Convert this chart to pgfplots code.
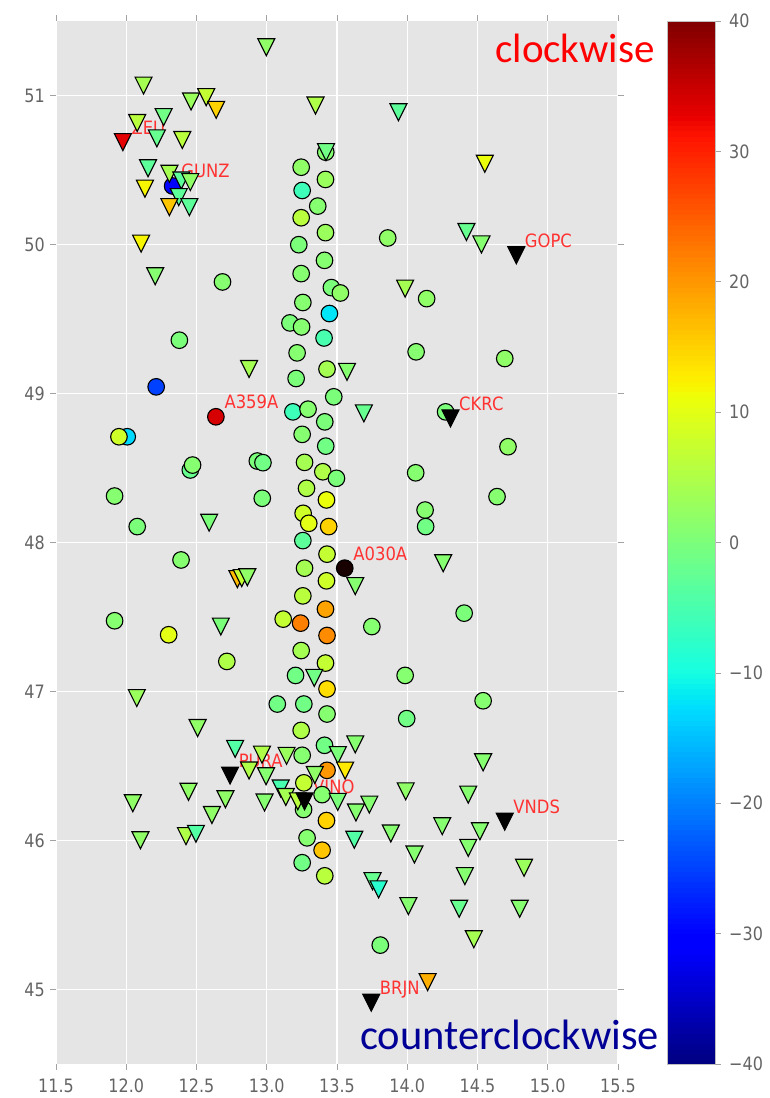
\documentclass[border=0pt]{standalone}
\usepackage{pgfplots}
\pgfplotsset{compat=1.18}
\usepackage{graphicx}
\usepackage{fontspec}
\setmainfont{DejaVu Sans}
\newfontfamily\calib{Carlito}
\definecolor{bgc}{RGB}{229,229,229}
\definecolor{lblred}{RGB}{255,50,50}
\definecolor{tickc}{RGB}{100,100,100}
\definecolor{navyt}{RGB}{0,0,150}
\newcommand\tl[1]{\scalebox{1}[1.15]{#1}}
\newcommand\stl[1]{\scalebox{1}[1.12]{#1}}
\pgfdeclareplotmark{vtri}{%
  \pgfpathmoveto{\pgfqpoint{0pt}{-\pgfplotmarksize}}%
  \pgfpathlineto{\pgfqpoint{-\pgfplotmarksize}{\pgfplotmarksize}}%
  \pgfpathlineto{\pgfqpoint{\pgfplotmarksize}{\pgfplotmarksize}}%
  \pgfpathclose\pgfusepathqfillstroke}
\pgfplotsset{colormap={mpljet}{rgb(0mm)=(0,0,0.5) rgb(11mm)=(0,0,1) rgb(12.5mm)=(0,0,1) rgb(34mm)=(0,0.86,1) rgb(35mm)=(0,0.9,0.9677) rgb(37.5mm)=(0.0806,1,0.887) rgb(64mm)=(0.935,1,0.0323) rgb(65mm)=(0.9677,0.963,0) rgb(66mm)=(1,0.926,0) rgb(89mm)=(1,0.074,0) rgb(91mm)=(0.909,0,0) rgb(100mm)=(0.5,0,0)}}
\pgfplotstableread{
x y c
13.245 50.519 2
13.418 50.437 3
13.252 50.363 -6
13.363 50.258 1
13.245 50.180 6
13.418 50.080 3
13.228 49.999 0
13.411 49.894 1
13.245 49.805 1
13.460 49.711 0
13.524 49.675 2
13.257 49.611 1
13.446 49.537 -12
13.165 49.474 0
13.248 49.447 1
13.408 49.373 -5
13.216 49.273 1
13.429 49.164 4
13.209 49.101 0
13.477 48.978 0
13.186 48.877 -6
13.294 48.895 1
13.413 48.810 0
13.252 48.726 1
13.420 48.647 -1
12.933 48.547 0
12.973 48.536 -1
13.269 48.538 4
13.399 48.475 5
13.496 48.431 0
12.968 48.297 0
13.283 48.364 5
13.425 48.286 11
13.259 48.196 8
13.299 48.129 10
13.441 48.107 15
13.257 48.013 -3
13.429 47.922 7
13.269 47.828 4
13.425 47.743 8
13.257 47.642 6
13.418 47.553 19
13.117 47.486 7
13.241 47.459 22
13.429 47.376 21
13.245 47.275 4
13.418 47.191 7
13.205 47.108 -1
13.429 47.017 14
13.075 46.916 -1
13.264 46.916 -1
13.429 46.849 1
13.245 46.739 5
13.411 46.639 -1
13.252 46.572 1
13.429 46.471 20
13.264 46.387 7
13.394 46.308 1
13.262 46.208 1
13.425 46.134 15
13.287 46.018 1
13.394 45.935 16
13.252 45.851 -1
13.413 45.763 6
13.808 45.298 0
12.685 49.749 1
12.378 49.358 0
12.213 49.045 -25
12.638 48.844 34
12.007 48.710 -13
11.948 48.710 8
12.456 48.487 -2
12.472 48.520 1
11.917 48.312 1
12.078 48.107 0
12.390 47.883 1
11.917 47.475 1
12.302 47.381 10
12.716 47.202 5
13.861 50.044 2
14.138 49.637 2
14.063 49.280 1
14.694 49.235 2
14.273 48.877 0
14.717 48.643 2
14.060 48.468 1
14.639 48.308 1
14.127 48.218 1
14.131 48.107 -1
14.405 47.526 0
13.748 47.436 1
13.985 47.108 1
14.540 46.938 1
13.996 46.818 -1
13.420 50.620 1
12.330 50.393 -30
}\circles
\pgfplotstableread{
x y c
12.997 51.324 2
12.123 51.067 4
12.461 50.960 3
12.569 50.989 7
12.640 50.904 15
13.347 50.933 5
12.078 50.816 6
12.266 50.855 -1
11.976 50.687 33
12.218 50.713 -2
12.399 50.702 6
12.155 50.512 -3
12.307 50.475 4
12.392 50.430 -3
12.456 50.419 2
12.133 50.375 12
12.374 50.318 -3
12.307 50.251 16
12.449 50.251 -3
12.106 50.006 12
12.206 49.787 1
13.422 50.620 -1
13.937 50.888 -3
14.552 50.542 11
14.421 50.084 -2
14.528 50.001 1
13.985 49.704 4
12.874 49.165 4
13.571 49.145 1
13.691 48.867 -2
12.590 48.133 0
14.256 47.861 1
13.630 47.707 1
12.791 47.754 17
12.822 47.761 7
12.862 47.767 2
12.673 47.436 0
13.338 47.092 -1
12.075 46.956 3
12.508 46.755 2
13.630 46.645 1
12.775 46.615 -4
12.966 46.576 5
13.141 46.568 3
13.506 46.573 0
14.540 46.525 1
12.874 46.470 5
13.558 46.469 13
13.342 46.440 2
12.995 46.431 1
13.099 46.349 -5
13.136 46.292 4
12.443 46.327 2
12.706 46.277 2
12.047 46.250 2
12.984 46.255 1
13.505 46.259 0
13.221 46.263 6
12.610 46.171 2
13.635 46.188 1
13.730 46.241 1
13.989 46.330 2
14.434 46.308 1
14.249 46.096 1
14.517 46.062 1
13.623 46.005 -4
13.883 46.047 1
12.101 46.002 2
12.425 46.029 5
12.496 46.045 -4
14.434 45.951 1
14.051 45.906 1
14.831 45.817 3
13.753 45.727 -2
13.796 45.672 -8
14.410 45.761 1
14.008 45.560 1
14.370 45.542 -2
14.800 45.542 1
14.474 45.337 4
14.145 45.050 18
}\triangles
\pgfplotstableread{
x y
14.776 49.928
14.308 48.833
14.694 46.127
12.739 46.436
13.269 46.263
13.744 44.912
}\blacktri
\begin{document}
\begin{tikzpicture}
\useasboundingbox (-56pt,-34pt) rectangle (714pt,1064pt);
\begin{axis}[
  at={(0pt,0pt)}, anchor=south west, scale only axis,
  width=562pt, height=1043pt,
  xmin=11.5, xmax=15.5, ymin=44.5, ymax=51.5,
  axis background/.style={fill=bgc},
  axis line style={draw=none},
  xtick={11.5,12.0,12.5,13.0,13.5,14.0,14.5,15.0,15.5},
  xticklabels={\tl{11.5},\tl{12.0},\tl{12.5},\tl{13.0},\tl{13.5},\tl{14.0},\tl{14.5},\tl{15.0},\tl{15.5}},
  ytick={45,46,47,48,49,50,51},
  yticklabels={\tl{45},\tl{46},\tl{47},\tl{48},\tl{49},\tl{50},\tl{51}},
  grid=major, major grid style={white, line width=1.3pt},
  tick align=outside, tick pos=both,
  xticklabel pos=lower, yticklabel pos=left,
  major tick length=6pt, major tick style={tickc!60, line width=0.8pt},
  ticklabel style={font=\fontsize{16}{18}\selectfont, text=tickc},
  xticklabel style={anchor=north, inner sep=0pt, yshift=-9pt},
  yticklabel style={anchor=east, inner sep=0pt, xshift=-5pt},
  colormap name=mpljet, point meta min=-40, point meta max=40,
  colorbar sampled,
  colorbar style={
    samples=201,
    at={(parent axis.north east)}, anchor=north west, xshift=40.5pt,
    width=48pt, scale only axis,
    ytick={-40,-30,-20,-10,0,10,20,30,40},
    yticklabels={\tl{−40},\tl{−30},\tl{−20},\tl{−10},\tl{0},\tl{10},\tl{20},\tl{30},\tl{40}},
    yticklabel pos=right, ytick pos=right, tick align=outside,
    major tick length=6pt, major tick style={tickc!60, line width=0.8pt},
    yticklabel style={font=\fontsize{16}{18}\selectfont, text=tickc, anchor=west, inner sep=0pt, xshift=8pt},
    axis line style={draw=gray!50, line width=0.5pt},
  },
]
\addplot[scatter, only marks, mark=*, mark size=8.3pt, line width=1.1pt,
  scatter/use mapped color={draw=black, fill=mapped color}, point meta=explicit]
  table[x=x, y=y, meta=c]{\circles};
\addplot[scatter, only marks, mark=vtri, mark size=8.5pt, line width=1.1pt,
  scatter/use mapped color={draw=black, fill=mapped color}, point meta=explicit]
  table[x=x, y=y, meta=c]{\triangles};
\addplot[only marks, mark=*, mark size=8.3pt, line width=1.1pt, mark options={fill=black!90!red, draw=black}]
  coordinates {(13.555,47.828)};
\addplot[only marks, mark=vtri, mark size=8.5pt, line width=1.1pt, mark options={fill=black, draw=black}]
  table[x=x, y=y]{\blacktri};
\tikzset{lbl/.style={anchor=base west, inner sep=0pt, xshift=8.5pt, yshift=8pt, text=lblred, font=\fontsize{16.4}{18}\selectfont}}
\node[lbl] at (axis cs:11.976,50.687) {\stl{ZEU}};
\node[lbl] at (axis cs:12.330,50.393) {\stl{GUNZ}};
\node[lbl] at (axis cs:14.776,49.928) {\stl{GOPC}};
\node[lbl] at (axis cs:12.638,48.844) {\stl{A359A}};
\node[lbl] at (axis cs:14.308,48.833) {\stl{CKRC}};
\node[lbl] at (axis cs:13.555,47.828) {\stl{A030A}};
\node[lbl] at (axis cs:12.739,46.436) {\stl{PURA}};
\node[lbl] at (axis cs:13.269,46.263) {\stl{VINO}};
\node[lbl] at (axis cs:14.694,46.127) {\stl{VNDS}};
\node[lbl] at (axis cs:13.744,44.912) {\stl{BRJN}};
\end{axis}
\node[anchor=base east, inner sep=0pt, text=red, font=\calib\fontsize{41}{48}\selectfont] at (599pt,1001pt) {clockwise};
\node[anchor=base west, inner sep=0pt, text=navyt, font=\calib\fontsize{42.5}{50}\selectfont] at (304pt,14pt) {counterclockwise};
\end{tikzpicture}
\end{document}
